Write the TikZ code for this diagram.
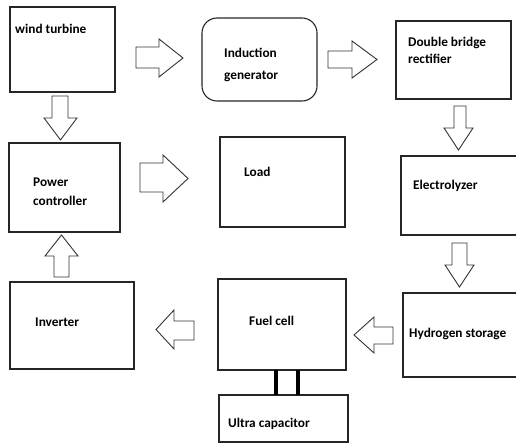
\documentclass[tikz,border=0pt]{standalone}
\usepackage{fontspec}
\setmainfont{Carlito}
\begin{document}
\begin{tikzpicture}[x=1pt,y=-1pt,
  box/.style={draw=black!85, line width=1.1pt},
  lbl/.style={anchor=base west, inner sep=0pt, font=\bfseries\fontsize{13.3}{16}\selectfont},
  barrow/.style={draw=black!80, line width=0.9pt, fill=white},
  link/.style={line width=4pt, black}]
\useasboundingbox (0,0) rectangle (516,443);
\clip (0,0) rectangle (516,443);
% boxes
\draw[box] (10,7) rectangle (115,92);
\draw[box, rounded corners=15pt] (202,18) rectangle (317,101);
\draw[box] (396,21) rectangle (511,99);
\draw[box] (9,143) rectangle (120,232);
\draw[box] (220,137) rectangle (345,227);
\draw[box] (401,156) rectangle (530,235);
\draw[box] (403,293) rectangle (530,377);
\draw[box] (10,282) rectangle (134,369);
\draw[box] (218,279) rectangle (346,370);
\draw[box] (219,395) rectangle (348,442);
% anchor coordinates for connector ends
\coordinate (fcA) at (276,370); \coordinate (ucA) at (276,395);
\coordinate (fcB) at (298,370); \coordinate (ucB) at (298,395);
% labels
\node[lbl] (t1) at (15,34) {wind turbine};
\node[lbl] (t2) at (224,58) {Induction};
\node[lbl] (t2b) at (224,80) {generator};
\node[lbl] (t3) at (408,47) {Double bridge};
\node[lbl] (t3b) at (408,64) {rectifier};
\node[lbl] (t4) at (413,190) {Electrolyzer};
\node[lbl] (t5) at (33,187) {Power};
\node[lbl] (t5b) at (33,206) {controller};
\node[lbl] (t6) at (244,177) {Load};
\node[lbl] (t7) at (35,326) {Inverter};
\node[lbl] (t8) at (249,325) {Fuel cell};
\node[lbl] (t9) at (409,337) {Hydrogen storage};
\node[lbl] (t10) at (228,427) {Ultra capacitor};
% block arrows
\draw[barrow] (136,47) -- (159,47) -- (159,39) -- (183,58) -- (159,77) -- (159,68) -- (136,68) -- cycle;
\draw[barrow] (328,51) -- (352,51) -- (352,41) -- (377,59.5) -- (352,78) -- (352,68) -- (328,68) -- cycle;
\draw[barrow] (140,163) -- (163,163) -- (163,155) -- (188,178.5) -- (163,202) -- (163,192) -- (140,192) -- cycle;
\draw[barrow] (52,96) -- (52,118) -- (44,118) -- (60.5,140) -- (77,118) -- (68,118) -- (68,96) -- cycle;
\draw[barrow] (54,277) -- (54,256) -- (45,256) -- (61.5,235) -- (78,256) -- (69,256) -- (69,277) -- cycle;
\draw[barrow] (454,106) -- (454,128) -- (444,128) -- (458.5,150) -- (473,128) -- (466,128) -- (466,106) -- cycle;
\draw[barrow] (452,243) -- (452,265) -- (445,265) -- (459.5,287) -- (474,265) -- (467,265) -- (467,243) -- cycle;
\draw[barrow] (194,321) -- (174,321) -- (174,310) -- (156,329.5) -- (174,349) -- (174,340) -- (194,340) -- cycle;
\draw[barrow] (393,327) -- (374,327) -- (374,317) -- (354,335) -- (374,353) -- (374,344) -- (393,344) -- cycle;
% thick links
\draw[link] (fcA) -- (ucA);
\draw[link] (fcB) -- (ucB);
\end{tikzpicture}
\end{document}
